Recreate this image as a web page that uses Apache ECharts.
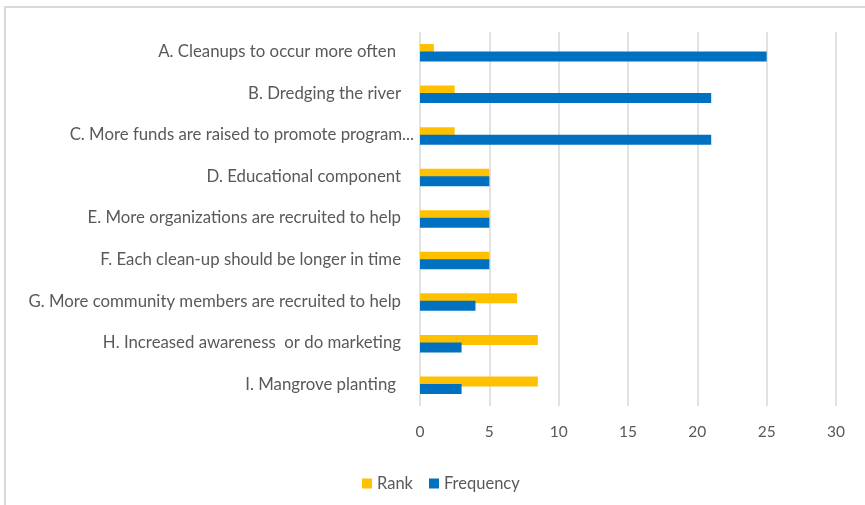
<!DOCTYPE html>
<html>
<head>
<meta charset="utf-8">
<script src="https://cdn.jsdelivr.net/npm/echarts@6/dist/echarts.min.js"></script>
<style>
html,body{margin:0;padding:0;background:#fff;}
#chart{width:865px;height:505px;}
</style>
</head>
<body>
<div id="chart"></div>
<script>
const categories = [
  "A. Cleanups to occur more often",
  "B. Dredging the river",
  "C. More funds are raised to promote program...",
  "D. Educational component",
  "E. More organizations are recruited to help",
  "F. Each clean-up should be longer in time",
  "G. More community members are recruited to help",
  "H. Increased awareness  or do marketing",
  "I. Mangrove planting"
];
const rankValues = [1, 2.5, 2.5, 5, 5, 5, 7, 8.5, 8.5];
const frequencyValues = [25, 21, 21, 5, 5, 5, 4, 3, 3];
const seriesNames = ["Rank", "Frequency"];
const xTicks = { min: 0, max: 30, interval: 5 };
// label right padding (Excel alignment quirks: trailing spaces / truncation)
const labelPad = [18, 13, 0, 13, 13, 13, 13, 13, 18];

const FONT = "Lato";
const TXT = "#595959";

const chart = echarts.init(document.getElementById('chart'));
const rich = {};
labelPad.forEach((p, i) => {
  rich['p' + i] = { fontFamily: FONT, fontSize: 16.8, color: TXT, padding: [0, p, 2, 0] };
});

chart.setOption({
  animation: false,
  backgroundColor: '#fff',
  textStyle: { fontFamily: FONT },
  graphic: [{
    type: 'rect',
    shape: { x: 5, y: 7, width: 900, height: 560 },
    style: { fill: 'none', stroke: '#d9d9d9', lineWidth: 2 },
    silent: true
  }],
  legend: {
    data: seriesNames,
    left: 357,
    top: 470,
    icon: 'rect',
    itemWidth: 10,
    itemHeight: 10,
    itemGap: 16,
    itemStyle: { borderWidth: 0 },
    textStyle: { fontFamily: FONT, fontSize: 16.5, color: TXT }
  },
  grid: { left: 420, right: 29, top: 32, height: 374, containLabel: false },
  xAxis: {
    type: 'value',
    min: xTicks.min, max: xTicks.max, interval: xTicks.interval,
    axisLine: { show: false },
    axisTick: { show: false },
    splitLine: { show: true, lineStyle: { color: '#d9d9d9', width: 1.5 } },
    axisLabel: { fontFamily: FONT, fontSize: 15.5, color: TXT, margin: 18 }
  },
  yAxis: {
    type: 'category',
    data: categories,
    inverse: true,
    axisLine: { show: false },
    axisTick: { show: false },
    splitLine: { show: false },
    axisLabel: {
      margin: 6,
      formatter: function (v, i) { return '{p' + i + '|' + v + '}'; },
      rich: rich
    }
  },
  series: [
    {
      name: seriesNames[0], type: 'bar', data: rankValues,
      barWidth: 10, barGap: '-25%',
      itemStyle: { color: '#FFC000' }
    },
    {
      name: seriesNames[1], type: 'bar', data: frequencyValues,
      barWidth: 10, barGap: '-25%',
      itemStyle: { color: '#0070C0' }
    }
  ]
});
</script>
</body>
</html>
